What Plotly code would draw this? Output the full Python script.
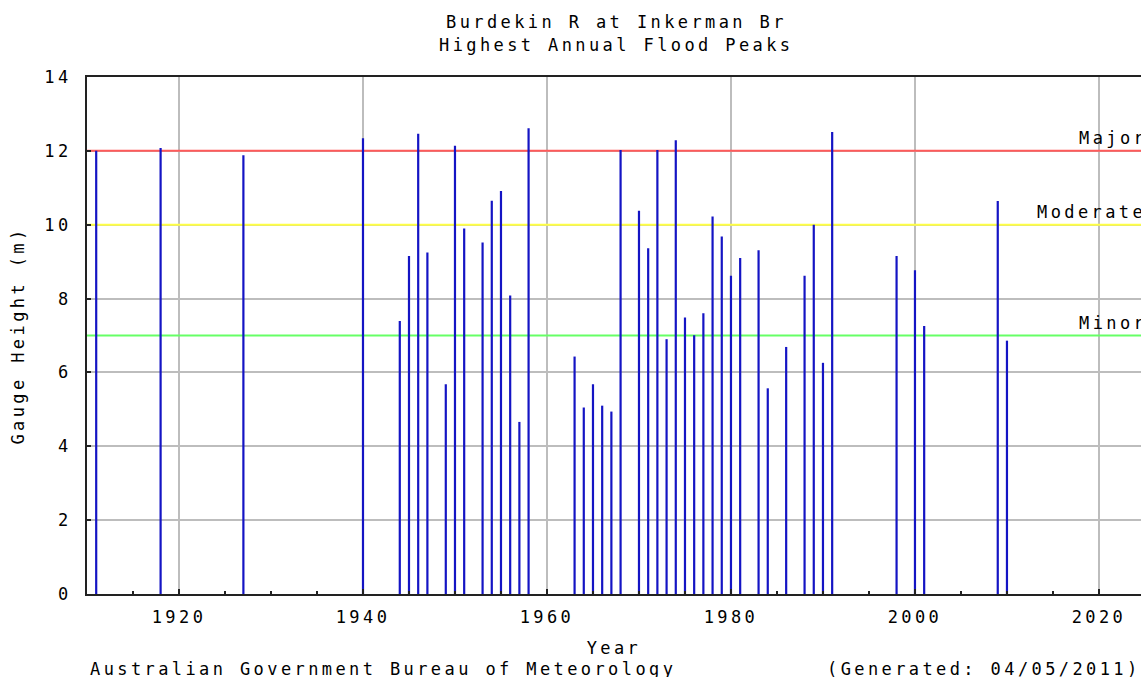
import plotly.graph_objects as go

years = [1911, 1918, 1927, 1940, 1944, 1945, 1946, 1947, 1949, 1950, 1951, 1953, 1954,
         1955, 1956, 1957, 1958, 1963, 1964, 1965, 1966, 1967, 1968, 1970, 1971, 1972,
         1973, 1974, 1975, 1976, 1977, 1978, 1979, 1980, 1981, 1983, 1984, 1986, 1988,
         1989, 1990, 1991, 1998, 2000, 2001, 2009, 2010]
peaks = [12.00, 12.08, 11.88, 12.34, 7.39, 9.15, 12.46, 9.25, 5.68, 12.14, 9.90, 9.52, 10.65,
         10.91, 8.08, 4.66, 12.61, 6.43, 5.05, 5.68, 5.10, 4.94, 12.02, 10.38, 9.36, 12.02,
         6.90, 12.29, 7.49, 7.01, 7.60, 10.22, 9.68, 8.62, 9.10, 9.31, 5.57, 6.69, 8.62,
         10.00, 6.26, 12.51, 9.15, 8.77, 7.26, 10.64, 6.86]

level_names = ["Major", "Moderate", "Minor"]
level_values = [12, 10, 7]
level_colors = ["#ff5a5a", "#ffff44", "#66ff66"]
level_label_x = [2017.6, 2013.0, 2017.6]

x_range = [1910, 2024.57]
x_ticks = [1920, 1940, 1960, 1980, 2000, 2020]
y_ticks = [0, 2, 4, 6, 8, 10, 12, 14]

FONT = "DejaVu Sans Mono"
LS = "letter-spacing:3.4px"

W, H = 1141, 677
ML, MT = 87, 77
PLOT_W = W - ML
PLOT_H = 517
MB = H - MT - PLOT_H


def sp(t):
    return f"<span style='{LS}'>{t}</span>"


def px_x(page_x):
    return (page_x - ML) / PLOT_W


def px_y(page_y):
    return (MT + PLOT_H - page_y) / PLOT_H


fig = go.Figure()

for name, val, col, lx in zip(level_names, level_values, level_colors, level_label_x):
    fig.add_trace(go.Scatter(x=x_range, y=[val, val], mode="lines",
                             line=dict(color=col, width=2),
                             hoverinfo="skip", showlegend=False))
    fig.add_annotation(x=lx, y=val, xref="x", yref="y", text=sp(name),
                       showarrow=False, xanchor="left", yanchor="bottom", yshift=1,
                       font=dict(family=FONT, size=17, color="black"))

xs, ys = [], []
for yr, v in zip(years, peaks):
    xs += [yr, yr, None]
    ys += [0, v, None]

fig.add_trace(go.Scatter(x=xs, y=ys, mode="lines",
                         line=dict(color="#1414c4", width=2.2),
                         hoverinfo="skip", showlegend=False))

fig.update_layout(
    width=W, height=H,
    margin=dict(l=ML, r=0, t=MT, b=MB, autoexpand=False),
    paper_bgcolor="white", plot_bgcolor="white",
    showlegend=False,
    font=dict(family=FONT, size=17, color="black"),
)

fig.update_xaxes(
    range=x_range, automargin=False,
    tickmode="array", tickvals=x_ticks, ticktext=[sp(str(t)) for t in x_ticks],
    ticks="inside", ticklen=5, tickwidth=2, tickcolor="#222",
    minor=dict(dtick=5, tick0=1910, ticks="inside", ticklen=3, tickwidth=2,
               tickcolor="#222", showgrid=False),
    showgrid=True, gridcolor="#bdbdbd", gridwidth=2,
    showline=True, linecolor="#222", linewidth=2, mirror=True,
    zeroline=False,
    ticklabelstandoff=7,
    title=dict(text=sp("Year"), standoff=16, font=dict(family=FONT, size=17)),
)
fig.update_yaxes(
    range=[0, 14], automargin=False,
    tickmode="array", tickvals=y_ticks, ticktext=[sp(str(t)) for t in y_ticks],
    ticks="inside", ticklen=4, tickwidth=2, tickcolor="#222",
    showgrid=True, gridcolor="#bdbdbd", gridwidth=2,
    showline=True, linecolor="#222", linewidth=2, mirror=False,
    zeroline=False,
    ticklabelstandoff=10,
    title=dict(text=sp("Gauge Height (m)"), standoff=15, font=dict(family=FONT, size=17)),
)

title_lines = ["Burdekin R at Inkerman Br", "Highest Annual Flood Peaks"]
title_y_px = [22, 45]
for line, ypx in zip(title_lines, title_y_px):
    fig.add_annotation(x=px_x(616), y=px_y(ypx), xref="paper", yref="paper",
                       text=sp(line), showarrow=False, xanchor="center", yanchor="middle",
                       font=dict(family=FONT, size=17))

fig.add_annotation(x=px_x(88), y=px_y(669), xref="paper", yref="paper",
                   text=sp("Australian Government Bureau of Meteorology"), showarrow=False,
                   xanchor="left", yanchor="middle", font=dict(family=FONT, size=17))
fig.add_annotation(x=px_x(1143), y=px_y(669), xref="paper", yref="paper",
                   text=sp("(Generated: 04/05/2011)"), showarrow=False,
                   xanchor="right", yanchor="middle", font=dict(family=FONT, size=17))

fig.write_html(
    "out.html",
    config={"displayModeBar": False},
    post_script="document.body.style.margin='0';document.body.style.overflow='hidden';",
)
